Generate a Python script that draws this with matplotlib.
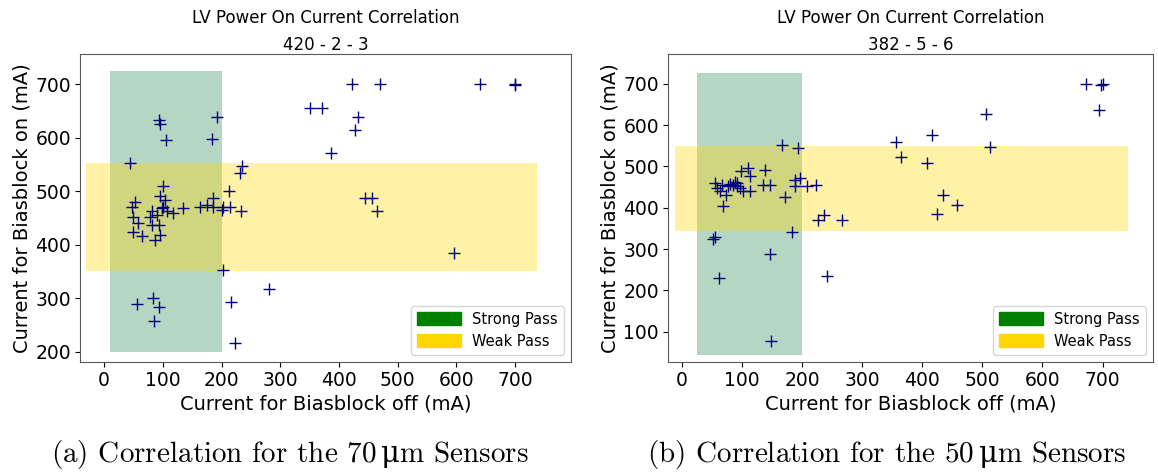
import matplotlib
matplotlib.use('Agg')
import matplotlib.pyplot as plt
from matplotlib.patches import Patch

plt.rcParams['mathtext.fontset'] = 'custom'
plt.rcParams['mathtext.rm'] = 'DejaVu Serif'

# 70 um sensors (420 - 2 - 3)
off_a = [94, 96, 192, 106, 183, 44, 235, 232, 101, 213, 53, 47, 50, 58, 50, 64, 87, 95,
         81, 93, 95, 104, 98, 107, 81, 78, 118, 135, 164, 175, 186, 186, 200, 203, 215,
         233, 203, 280, 56, 83, 94, 85, 216, 223, 422, 469, 640, 700, 700, 351, 371,
         432, 428, 386, 445, 457, 465, 596, 100, 90]
on_a = [633, 625, 639, 596, 597, 553, 546, 533, 510, 500, 480, 471, 452, 440, 424, 416, 409, 418,
        437, 437, 490, 484, 468, 462, 462, 452, 459, 468, 471, 474, 487, 471, 465, 471, 471,
        462, 352, 317, 289, 301, 283, 258, 293, 217, 700, 700, 700, 700, 698, 655, 655,
        639, 614, 571, 487, 487, 462, 384, 470, 455]

# 50 um sensors (382 - 5 - 6)
off_b = [166, 194, 110, 138, 113, 99, 135, 146, 55, 58, 66, 63, 77, 85, 91, 97, 91, 102,
         113, 74, 69, 172, 188, 188, 196, 209, 223, 226, 237, 267, 183, 52, 55, 146, 61,
         242, 149, 673, 701, 697, 694, 506, 417, 357, 365, 408, 512, 434, 458, 424, 80, 88]
on_b = [552, 544, 496, 492, 476, 488, 456, 456, 460, 448, 456, 440, 452, 456, 452, 448, 460, 440,
        440, 432, 404, 427, 468, 452, 472, 453, 456, 371, 383, 371, 341, 325, 330, 289, 230,
        234, 77, 700, 700, 698, 637, 627, 577, 558, 524, 508, 547, 432, 407, 386, 458, 462]

titles = ['LV Power On Current Correlation\n420 - 2 - 3',
          'LV Power On Current Correlation\n382 - 5 - 6']
captions = ['(a) Correlation for the 70$\\,\\mathrm{\\mu}$m Sensors',
            '(b) Correlation for the 50$\\,\\mathrm{\\mu}$m Sensors']

# strong pass box (x0, x1, y0, y1) and weak pass band
strong = [(10, 200, 200, 725), (25, 200, 45, 727)]
weak = [(-30, 737, 350, 552), (-12, 742, 345, 550)]
xlims = [(-41, 795), (-23, 784)]
ylims = [(181, 756), (27, 772)]
yticks = [[200, 300, 400, 500, 600, 700], [100, 200, 300, 400, 500, 600, 700]]

fig = plt.figure(figsize=(11.58, 4.75), dpi=100)
ax1 = fig.add_axes([0.0691, 0.2379, 0.424, 0.6484])
ax2 = fig.add_axes([0.5769, 0.2379, 0.4188, 0.6484])

for i, (ax, xs, ys) in enumerate([(ax1, off_a, on_a), (ax2, off_b, on_b)]):
    sx0, sx1, sy0, sy1 = strong[i]
    wx0, wx1, wy0, wy1 = weak[i]
    ax.fill_between([sx0, sx1], sy0, sy1, color='seagreen', alpha=0.35, linewidth=0)
    ax.fill_between([wx0, wx1], wy0, wy1, color='gold', alpha=0.35, linewidth=0)
    ax.scatter(xs, ys, marker='+', s=75, color='navy', linewidths=1)
    ax.set_xlim(*xlims[i])
    ax.set_ylim(*ylims[i])
    ax.set_xticks([0, 100, 200, 300, 400, 500, 600, 700])
    ax.set_yticks(yticks[i])
    ax.tick_params(labelsize=13.5, pad=3)
    ax.set_title(titles[i], fontsize=12, linespacing=1.65, pad=3)
    ax.set_xlabel('Current for Biasblock off (mA)', fontsize=14, labelpad=3)
    ax.set_ylabel('Current for Biasblock on (mA)', fontsize=14, labelpad=3)
    for sp in ax.spines.values():
        sp.set_color('0.35')
    ax.legend(handles=[Patch(color='green', label='Strong Pass'),
                       Patch(color='gold', label='Weak Pass')],
              loc='lower right', fontsize=10.5, handlelength=3.0, handleheight=1.0)

fig.text(0.2504, 0.027, captions[0], ha='center', va='baseline', fontsize=21,
         family=['cmr10', 'DejaVu Serif'])
fig.text(0.7655, 0.027, captions[1], ha='center', va='baseline', fontsize=21,
         family=['cmr10', 'DejaVu Serif'])

fig.savefig('out.png', dpi=100)
